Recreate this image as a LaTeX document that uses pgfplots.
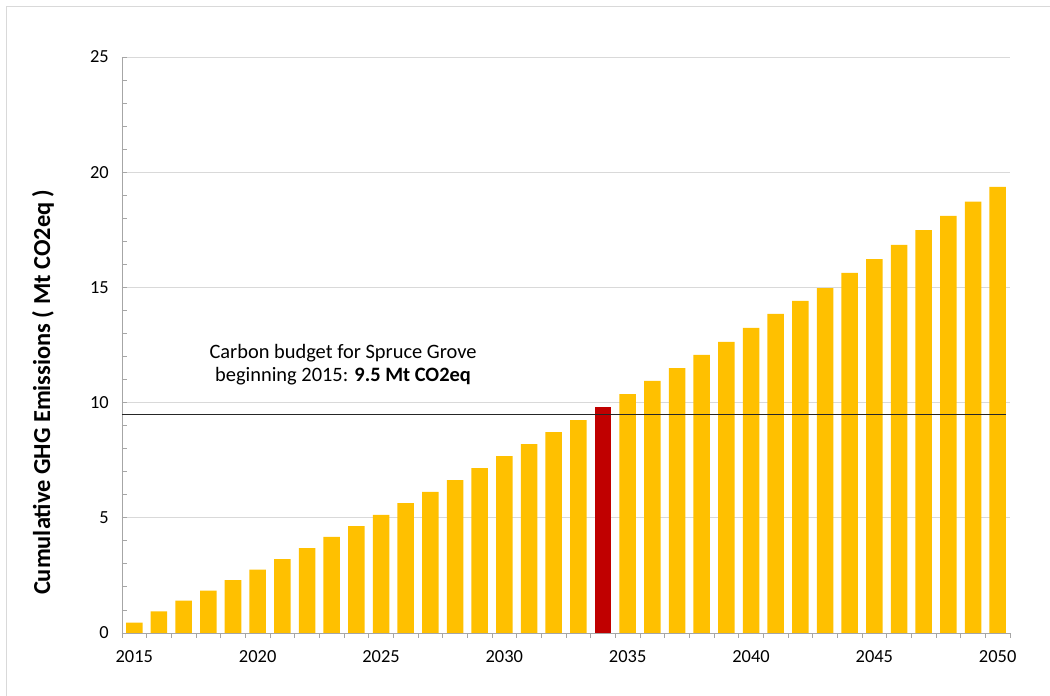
\documentclass[border=0pt]{standalone}
\usepackage{fontspec}
\setmainfont{Carlito}
\usepackage{pgfplots}
\pgfplotsset{compat=1.18}

\definecolor{baryellow}{HTML}{FFC000}
\definecolor{barred}{HTML}{C00000}
\definecolor{gridgray}{HTML}{D9D9D9}
\definecolor{axisgray}{HTML}{A6A6A6}

\begin{document}
\begin{tikzpicture}
\begin{axis}[
    name=ax,
    scale only axis,
    width=888bp, height=576bp,
    ybar, bar width=16.5bp, bar shift=0pt,
    xmin=2014.5, xmax=2050.5,
    ymin=0, ymax=25,
    xtick={2015,2020,...,2050},
    minor xtick={2014.5,2015.5,...,2050.5},
    ytick={0,5,...,25},
    minor ytick={0,1,...,25},
    axis x line=bottom, axis y line=left,
    axis line style={axisgray, line width=0.9bp, -},
    x tick style={axisgray, line width=0.9bp},
    y tick style={axisgray, line width=0.9bp},
    xtick align=outside, ytick align=inside,
    major x tick style={draw=none},
    major tick length=5bp, minor tick length=5bp,
    ymajorgrids, grid style={gridgray, line width=0.9bp},
    tick label style={font=\fontsize{18.5}{21}\selectfont},
    /pgf/number format/assume math mode=true,
    /pgf/number format/1000 sep={},
    yticklabel style={anchor=east, inner sep=0pt, xshift=-13bp},
    xticklabel style={anchor=north, inner sep=0pt, yshift=-12bp},
    ylabel={Cumulative GHG Emissions ( Mt CO2eq )},
    ylabel style={font=\fontsize{24.5}{28}\bfseries\selectfont, at={(axis description cs:-0.089,0.418)}, rotate=0, anchor=center},
    clip=false,
]
\addplot[fill=baryellow, draw=none] table {
2015 0.45
2016 0.94
2017 1.40
2018 1.84
2019 2.29
2020 2.75
2021 3.21
2022 3.68
2023 4.17
2024 4.64
2025 5.13
2026 5.64
2027 6.12
2028 6.64
2029 7.16
2030 7.68
2031 8.20
2032 8.72
2033 9.24
2035 10.37
2036 10.94
2037 11.50
2038 12.07
2039 12.63
2040 13.24
2041 13.85
2042 14.41
2043 14.97
2044 15.63
2045 16.23
2046 16.84
2047 17.48
2048 18.10
2049 18.72
2050 19.36
};
\addplot[fill=barred, draw=none] table {
2034 9.81
};
\addplot[sharp plot, draw=black!85, line width=1.1bp] coordinates {(2014.5,9.5) (2050.35,9.5)};
\node[align=center, font=\fontsize{20.5}{23.5}\selectfont] at (axis cs:2023.46,11.65)
    {Carbon budget for Spruce Grove\\beginning 2015: \textbf{9.5 Mt CO2eq}};
\end{axis}
\begin{scope}[x=1bp, y=1bp, shift={(ax.south west)}]
\draw[gridgray, line width=1bp] (-115,-63) -- (-115,626) -- (928,626);
\pgfresetboundingbox
\useasboundingbox (-122,-63) rectangle (928,633);
\end{scope}
\end{tikzpicture}
\end{document}
